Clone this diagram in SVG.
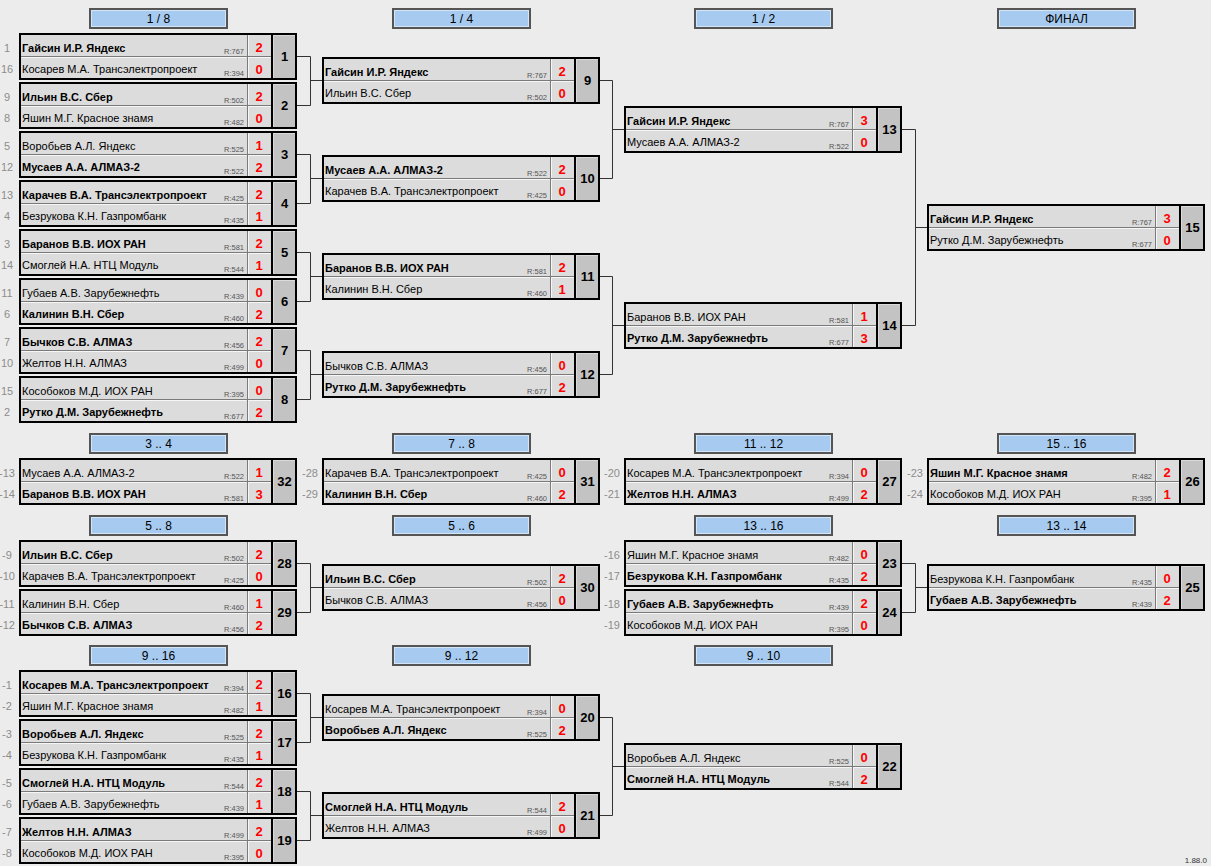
<svg xmlns="http://www.w3.org/2000/svg" xmlns:xlink="http://www.w3.org/1999/xlink" width="1211" height="866" viewBox="0 0 1211 866">
<style>
text{font-family:'Liberation Sans',Arial,sans-serif}
.nm{font-size:11px;fill:#000}
.w{font-weight:bold}
.r{font-size:7.5px;fill:#555;text-anchor:end}
.sc{font-size:13px;font-weight:bold;fill:#ff0000;text-anchor:middle}
.no{font-size:13px;font-weight:bold;fill:#000;text-anchor:middle}
.sd{font-size:11px;fill:#8c8c8c;text-anchor:middle}
.ht{font-size:12px;fill:#000;text-anchor:middle}
.con{fill:none;stroke:#333;stroke-width:1}
.ver{font-size:8px;fill:#333;text-anchor:end}
</style>
<defs>
<g id="box">
<rect x="0" y="0" width="278" height="47" fill="#dcdcdc"/>
<rect x="253" y="0" width="25" height="47" fill="#c3c3c3"/>
<path d="M1.5,22.5V1.5H227.5M1.5,45.5V24.5H227.5M229.5,22.5V1.5H252M229.5,45.5V24.5H252" fill="none" stroke="#f6f6f6"/>
<path d="M254.5,45.5V2.5H276.5" fill="none" stroke="#dadada"/>
<path d="M0,23.5H253M228.5,0V47" fill="none" stroke="#7a7a7a"/>
<rect x="1" y="1" width="276" height="45" fill="none" stroke="#000" stroke-width="2"/>
<line x1="253" y1="0" x2="253" y2="47" stroke="#000" stroke-width="2"/>
</g>
<g id="hdr">
<rect x="1" y="1" width="137" height="19" fill="#a6caf0" stroke="#555" stroke-width="2"/>
<rect x="2.5" y="2.5" width="134" height="16" fill="none" stroke="#d4e5f7" stroke-width="1"/>
</g>
</defs>
<rect x="0" y="0" width="1211" height="866" fill="#ececec"/>

<g id="headers">
<g transform="translate(89,8)"><use xlink:href="#hdr"/><text class="ht" x="69.5" y="15">1 / 8</text></g>
<g transform="translate(392,8)"><use xlink:href="#hdr"/><text class="ht" x="69.5" y="15">1 / 4</text></g>
<g transform="translate(694,8)"><use xlink:href="#hdr"/><text class="ht" x="69.5" y="15">1 / 2</text></g>
<g transform="translate(997,8)"><use xlink:href="#hdr"/><text class="ht" x="69.5" y="15">ФИНАЛ</text></g>
<g transform="translate(89,433)"><use xlink:href="#hdr"/><text class="ht" x="69.5" y="15">3 .. 4</text></g>
<g transform="translate(392,433)"><use xlink:href="#hdr"/><text class="ht" x="69.5" y="15">7 .. 8</text></g>
<g transform="translate(694,433)"><use xlink:href="#hdr"/><text class="ht" x="69.5" y="15">11 .. 12</text></g>
<g transform="translate(997,433)"><use xlink:href="#hdr"/><text class="ht" x="69.5" y="15">15 .. 16</text></g>
<g transform="translate(89,515)"><use xlink:href="#hdr"/><text class="ht" x="69.5" y="15">5 .. 8</text></g>
<g transform="translate(392,515)"><use xlink:href="#hdr"/><text class="ht" x="69.5" y="15">5 .. 6</text></g>
<g transform="translate(694,515)"><use xlink:href="#hdr"/><text class="ht" x="69.5" y="15">13 .. 16</text></g>
<g transform="translate(997,515)"><use xlink:href="#hdr"/><text class="ht" x="69.5" y="15">13 .. 14</text></g>
<g transform="translate(89,645)"><use xlink:href="#hdr"/><text class="ht" x="69.5" y="15">9 .. 16</text></g>
<g transform="translate(392,645)"><use xlink:href="#hdr"/><text class="ht" x="69.5" y="15">9 .. 12</text></g>
<g transform="translate(694,645)"><use xlink:href="#hdr"/><text class="ht" x="69.5" y="15">9 .. 10</text></g>
</g>

<g id="connectors" class="con">
<path d="M297,56.5H310.5V105.5H297M310.5,80.5H322"/>
<path d="M297,154.5H310.5V203.5H297M310.5,178.5H322"/>
<path d="M297,252.5H310.5V301.5H297M310.5,276.5H322"/>
<path d="M297,350.5H310.5V399.5H297M310.5,374.5H322"/>
<path d="M600,80.5H612.5V178.5H600M612.5,129.5H624"/>
<path d="M600,276.5H612.5V374.5H600M612.5,325.5H624"/>
<path d="M902,129.5H915.5V325.5H902M915.5,227.5H927"/>
<path d="M297,563.5H310.5V612.5H297M310.5,587.5H322"/>
<path d="M902,563.5H915.5V612.5H902M915.5,587.5H927"/>
<path d="M297,693.5H310.5V742.5H297M310.5,717.5H322"/>
<path d="M297,791.5H310.5V840.5H297M310.5,815.5H322"/>
<path d="M600,717.5H612.5V815.5H600M612.5,766.5H624"/>
</g>

<g id="m1" transform="translate(19,33)"><use xlink:href="#box"/>
<text class="sd" x="-12" y="18.5">1</text><text class="nm w" x="3" y="18.5">Гайсин И.Р. Яндекс</text><text class="r" x="225" y="21">R:767</text><text class="sc" x="240" y="19">2</text>
<text class="sd" x="-12" y="40">16</text><text class="nm" x="3" y="40">Косарев М.А. Трансэлектропроект</text><text class="r" x="225" y="43">R:394</text><text class="sc" x="240" y="41">0</text>
<text class="no" x="265.5" y="28">1</text></g>
<g id="m2" transform="translate(19,82)"><use xlink:href="#box"/>
<text class="sd" x="-12" y="18.5">9</text><text class="nm w" x="3" y="18.5">Ильин В.С. Сбер</text><text class="r" x="225" y="21">R:502</text><text class="sc" x="240" y="19">2</text>
<text class="sd" x="-12" y="40">8</text><text class="nm" x="3" y="40">Яшин М.Г. Красное знамя</text><text class="r" x="225" y="43">R:482</text><text class="sc" x="240" y="41">0</text>
<text class="no" x="265.5" y="28">2</text></g>
<g id="m3" transform="translate(19,131)"><use xlink:href="#box"/>
<text class="sd" x="-12" y="18.5">5</text><text class="nm" x="3" y="18.5">Воробьев А.Л. Яндекс</text><text class="r" x="225" y="21">R:525</text><text class="sc" x="240" y="19">1</text>
<text class="sd" x="-12" y="40">12</text><text class="nm w" x="3" y="40">Мусаев А.А. АЛМАЗ-2</text><text class="r" x="225" y="43">R:522</text><text class="sc" x="240" y="41">2</text>
<text class="no" x="265.5" y="28">3</text></g>
<g id="m4" transform="translate(19,180)"><use xlink:href="#box"/>
<text class="sd" x="-12" y="18.5">13</text><text class="nm w" x="3" y="18.5">Карачев В.А. Трансэлектропроект</text><text class="r" x="225" y="21">R:425</text><text class="sc" x="240" y="19">2</text>
<text class="sd" x="-12" y="40">4</text><text class="nm" x="3" y="40">Безрукова К.Н. Газпромбанк</text><text class="r" x="225" y="43">R:435</text><text class="sc" x="240" y="41">1</text>
<text class="no" x="265.5" y="28">4</text></g>
<g id="m5" transform="translate(19,229)"><use xlink:href="#box"/>
<text class="sd" x="-12" y="18.5">3</text><text class="nm w" x="3" y="18.5">Баранов В.В. ИОХ РАН</text><text class="r" x="225" y="21">R:581</text><text class="sc" x="240" y="19">2</text>
<text class="sd" x="-12" y="40">14</text><text class="nm" x="3" y="40">Смоглей Н.А. НТЦ Модуль</text><text class="r" x="225" y="43">R:544</text><text class="sc" x="240" y="41">1</text>
<text class="no" x="265.5" y="28">5</text></g>
<g id="m6" transform="translate(19,278)"><use xlink:href="#box"/>
<text class="sd" x="-12" y="18.5">11</text><text class="nm" x="3" y="18.5">Губаев А.В. Зарубежнефть</text><text class="r" x="225" y="21">R:439</text><text class="sc" x="240" y="19">0</text>
<text class="sd" x="-12" y="40">6</text><text class="nm w" x="3" y="40">Калинин В.Н. Сбер</text><text class="r" x="225" y="43">R:460</text><text class="sc" x="240" y="41">2</text>
<text class="no" x="265.5" y="28">6</text></g>
<g id="m7" transform="translate(19,327)"><use xlink:href="#box"/>
<text class="sd" x="-12" y="18.5">7</text><text class="nm w" x="3" y="18.5">Бычков С.В. АЛМАЗ</text><text class="r" x="225" y="21">R:456</text><text class="sc" x="240" y="19">2</text>
<text class="sd" x="-12" y="40">10</text><text class="nm" x="3" y="40">Желтов Н.Н. АЛМАЗ</text><text class="r" x="225" y="43">R:499</text><text class="sc" x="240" y="41">0</text>
<text class="no" x="265.5" y="28">7</text></g>
<g id="m8" transform="translate(19,376)"><use xlink:href="#box"/>
<text class="sd" x="-12" y="18.5">15</text><text class="nm" x="3" y="18.5">Кособоков М.Д. ИОХ РАН</text><text class="r" x="225" y="21">R:395</text><text class="sc" x="240" y="19">0</text>
<text class="sd" x="-12" y="40">2</text><text class="nm w" x="3" y="40">Рутко Д.М. Зарубежнефть</text><text class="r" x="225" y="43">R:677</text><text class="sc" x="240" y="41">2</text>
<text class="no" x="265.5" y="28">8</text></g>

<g id="m9" transform="translate(322,57)"><use xlink:href="#box"/>
<text class="nm w" x="3" y="18.5">Гайсин И.Р. Яндекс</text><text class="r" x="225" y="21">R:767</text><text class="sc" x="240" y="19">2</text>
<text class="nm" x="3" y="40">Ильин В.С. Сбер</text><text class="r" x="225" y="43">R:502</text><text class="sc" x="240" y="41">0</text>
<text class="no" x="265.5" y="28">9</text></g>
<g id="m10" transform="translate(322,155)"><use xlink:href="#box"/>
<text class="nm w" x="3" y="18.5">Мусаев А.А. АЛМАЗ-2</text><text class="r" x="225" y="21">R:522</text><text class="sc" x="240" y="19">2</text>
<text class="nm" x="3" y="40">Карачев В.А. Трансэлектропроект</text><text class="r" x="225" y="43">R:425</text><text class="sc" x="240" y="41">0</text>
<text class="no" x="265.5" y="28">10</text></g>
<g id="m11" transform="translate(322,253)"><use xlink:href="#box"/>
<text class="nm w" x="3" y="18.5">Баранов В.В. ИОХ РАН</text><text class="r" x="225" y="21">R:581</text><text class="sc" x="240" y="19">2</text>
<text class="nm" x="3" y="40">Калинин В.Н. Сбер</text><text class="r" x="225" y="43">R:460</text><text class="sc" x="240" y="41">1</text>
<text class="no" x="265.5" y="28">11</text></g>
<g id="m12" transform="translate(322,351)"><use xlink:href="#box"/>
<text class="nm" x="3" y="18.5">Бычков С.В. АЛМАЗ</text><text class="r" x="225" y="21">R:456</text><text class="sc" x="240" y="19">0</text>
<text class="nm w" x="3" y="40">Рутко Д.М. Зарубежнефть</text><text class="r" x="225" y="43">R:677</text><text class="sc" x="240" y="41">2</text>
<text class="no" x="265.5" y="28">12</text></g>

<g id="m13" transform="translate(624,106)"><use xlink:href="#box"/>
<text class="nm w" x="3" y="18.5">Гайсин И.Р. Яндекс</text><text class="r" x="225" y="21">R:767</text><text class="sc" x="240" y="19">3</text>
<text class="nm" x="3" y="40">Мусаев А.А. АЛМАЗ-2</text><text class="r" x="225" y="43">R:522</text><text class="sc" x="240" y="41">0</text>
<text class="no" x="265.5" y="28">13</text></g>
<g id="m14" transform="translate(624,302)"><use xlink:href="#box"/>
<text class="nm" x="3" y="18.5">Баранов В.В. ИОХ РАН</text><text class="r" x="225" y="21">R:581</text><text class="sc" x="240" y="19">1</text>
<text class="nm w" x="3" y="40">Рутко Д.М. Зарубежнефть</text><text class="r" x="225" y="43">R:677</text><text class="sc" x="240" y="41">3</text>
<text class="no" x="265.5" y="28">14</text></g>
<g id="m15" transform="translate(927,204)"><use xlink:href="#box"/>
<text class="nm w" x="3" y="18.5">Гайсин И.Р. Яндекс</text><text class="r" x="225" y="21">R:767</text><text class="sc" x="240" y="19">3</text>
<text class="nm" x="3" y="40">Рутко Д.М. Зарубежнефть</text><text class="r" x="225" y="43">R:677</text><text class="sc" x="240" y="41">0</text>
<text class="no" x="265.5" y="28">15</text></g>

<g id="m32" transform="translate(19,458)"><use xlink:href="#box"/>
<text class="sd" x="-12" y="18.5">-13</text><text class="nm" x="3" y="18.5">Мусаев А.А. АЛМАЗ-2</text><text class="r" x="225" y="21">R:522</text><text class="sc" x="240" y="19">1</text>
<text class="sd" x="-12" y="40">-14</text><text class="nm w" x="3" y="40">Баранов В.В. ИОХ РАН</text><text class="r" x="225" y="43">R:581</text><text class="sc" x="240" y="41">3</text>
<text class="no" x="265.5" y="28">32</text></g>
<g id="m31" transform="translate(322,458)"><use xlink:href="#box"/>
<text class="sd" x="-12" y="18.5">-28</text><text class="nm" x="3" y="18.5">Карачев В.А. Трансэлектропроект</text><text class="r" x="225" y="21">R:425</text><text class="sc" x="240" y="19">0</text>
<text class="sd" x="-12" y="40">-29</text><text class="nm w" x="3" y="40">Калинин В.Н. Сбер</text><text class="r" x="225" y="43">R:460</text><text class="sc" x="240" y="41">2</text>
<text class="no" x="265.5" y="28">31</text></g>
<g id="m27" transform="translate(624,458)"><use xlink:href="#box"/>
<text class="sd" x="-12" y="18.5">-20</text><text class="nm" x="3" y="18.5">Косарев М.А. Трансэлектропроект</text><text class="r" x="225" y="21">R:394</text><text class="sc" x="240" y="19">0</text>
<text class="sd" x="-12" y="40">-21</text><text class="nm w" x="3" y="40">Желтов Н.Н. АЛМАЗ</text><text class="r" x="225" y="43">R:499</text><text class="sc" x="240" y="41">2</text>
<text class="no" x="265.5" y="28">27</text></g>
<g id="m26" transform="translate(927,458)"><use xlink:href="#box"/>
<text class="sd" x="-12" y="18.5">-23</text><text class="nm w" x="3" y="18.5">Яшин М.Г. Красное знамя</text><text class="r" x="225" y="21">R:482</text><text class="sc" x="240" y="19">2</text>
<text class="sd" x="-12" y="40">-24</text><text class="nm" x="3" y="40">Кособоков М.Д. ИОХ РАН</text><text class="r" x="225" y="43">R:395</text><text class="sc" x="240" y="41">1</text>
<text class="no" x="265.5" y="28">26</text></g>

<g id="m28" transform="translate(19,540)"><use xlink:href="#box"/>
<text class="sd" x="-12" y="18.5">-9</text><text class="nm w" x="3" y="18.5">Ильин В.С. Сбер</text><text class="r" x="225" y="21">R:502</text><text class="sc" x="240" y="19">2</text>
<text class="sd" x="-12" y="40">-10</text><text class="nm" x="3" y="40">Карачев В.А. Трансэлектропроект</text><text class="r" x="225" y="43">R:425</text><text class="sc" x="240" y="41">0</text>
<text class="no" x="265.5" y="28">28</text></g>
<g id="m29" transform="translate(19,589)"><use xlink:href="#box"/>
<text class="sd" x="-12" y="18.5">-11</text><text class="nm" x="3" y="18.5">Калинин В.Н. Сбер</text><text class="r" x="225" y="21">R:460</text><text class="sc" x="240" y="19">1</text>
<text class="sd" x="-12" y="40">-12</text><text class="nm w" x="3" y="40">Бычков С.В. АЛМАЗ</text><text class="r" x="225" y="43">R:456</text><text class="sc" x="240" y="41">2</text>
<text class="no" x="265.5" y="28">29</text></g>
<g id="m30" transform="translate(322,564)"><use xlink:href="#box"/>
<text class="nm w" x="3" y="18.5">Ильин В.С. Сбер</text><text class="r" x="225" y="21">R:502</text><text class="sc" x="240" y="19">2</text>
<text class="nm" x="3" y="40">Бычков С.В. АЛМАЗ</text><text class="r" x="225" y="43">R:456</text><text class="sc" x="240" y="41">0</text>
<text class="no" x="265.5" y="28">30</text></g>
<g id="m23" transform="translate(624,540)"><use xlink:href="#box"/>
<text class="sd" x="-12" y="18.5">-16</text><text class="nm" x="3" y="18.5">Яшин М.Г. Красное знамя</text><text class="r" x="225" y="21">R:482</text><text class="sc" x="240" y="19">0</text>
<text class="sd" x="-12" y="40">-17</text><text class="nm w" x="3" y="40">Безрукова К.Н. Газпромбанк</text><text class="r" x="225" y="43">R:435</text><text class="sc" x="240" y="41">2</text>
<text class="no" x="265.5" y="28">23</text></g>
<g id="m24" transform="translate(624,589)"><use xlink:href="#box"/>
<text class="sd" x="-12" y="18.5">-18</text><text class="nm w" x="3" y="18.5">Губаев А.В. Зарубежнефть</text><text class="r" x="225" y="21">R:439</text><text class="sc" x="240" y="19">2</text>
<text class="sd" x="-12" y="40">-19</text><text class="nm" x="3" y="40">Кособоков М.Д. ИОХ РАН</text><text class="r" x="225" y="43">R:395</text><text class="sc" x="240" y="41">0</text>
<text class="no" x="265.5" y="28">24</text></g>
<g id="m25" transform="translate(927,564)"><use xlink:href="#box"/>
<text class="nm" x="3" y="18.5">Безрукова К.Н. Газпромбанк</text><text class="r" x="225" y="21">R:435</text><text class="sc" x="240" y="19">0</text>
<text class="nm w" x="3" y="40">Губаев А.В. Зарубежнефть</text><text class="r" x="225" y="43">R:439</text><text class="sc" x="240" y="41">2</text>
<text class="no" x="265.5" y="28">25</text></g>

<g id="m16" transform="translate(19,670)"><use xlink:href="#box"/>
<text class="sd" x="-12" y="18.5">-1</text><text class="nm w" x="3" y="18.5">Косарев М.А. Трансэлектропроект</text><text class="r" x="225" y="21">R:394</text><text class="sc" x="240" y="19">2</text>
<text class="sd" x="-12" y="40">-2</text><text class="nm" x="3" y="40">Яшин М.Г. Красное знамя</text><text class="r" x="225" y="43">R:482</text><text class="sc" x="240" y="41">1</text>
<text class="no" x="265.5" y="28">16</text></g>
<g id="m17" transform="translate(19,719)"><use xlink:href="#box"/>
<text class="sd" x="-12" y="18.5">-3</text><text class="nm w" x="3" y="18.5">Воробьев А.Л. Яндекс</text><text class="r" x="225" y="21">R:525</text><text class="sc" x="240" y="19">2</text>
<text class="sd" x="-12" y="40">-4</text><text class="nm" x="3" y="40">Безрукова К.Н. Газпромбанк</text><text class="r" x="225" y="43">R:435</text><text class="sc" x="240" y="41">1</text>
<text class="no" x="265.5" y="28">17</text></g>
<g id="m18" transform="translate(19,768)"><use xlink:href="#box"/>
<text class="sd" x="-12" y="18.5">-5</text><text class="nm w" x="3" y="18.5">Смоглей Н.А. НТЦ Модуль</text><text class="r" x="225" y="21">R:544</text><text class="sc" x="240" y="19">2</text>
<text class="sd" x="-12" y="40">-6</text><text class="nm" x="3" y="40">Губаев А.В. Зарубежнефть</text><text class="r" x="225" y="43">R:439</text><text class="sc" x="240" y="41">1</text>
<text class="no" x="265.5" y="28">18</text></g>
<g id="m19" transform="translate(19,817)"><use xlink:href="#box"/>
<text class="sd" x="-12" y="18.5">-7</text><text class="nm w" x="3" y="18.5">Желтов Н.Н. АЛМАЗ</text><text class="r" x="225" y="21">R:499</text><text class="sc" x="240" y="19">2</text>
<text class="sd" x="-12" y="40">-8</text><text class="nm" x="3" y="40">Кособоков М.Д. ИОХ РАН</text><text class="r" x="225" y="43">R:395</text><text class="sc" x="240" y="41">0</text>
<text class="no" x="265.5" y="28">19</text></g>
<g id="m20" transform="translate(322,694)"><use xlink:href="#box"/>
<text class="nm" x="3" y="18.5">Косарев М.А. Трансэлектропроект</text><text class="r" x="225" y="21">R:394</text><text class="sc" x="240" y="19">0</text>
<text class="nm w" x="3" y="40">Воробьев А.Л. Яндекс</text><text class="r" x="225" y="43">R:525</text><text class="sc" x="240" y="41">2</text>
<text class="no" x="265.5" y="28">20</text></g>
<g id="m21" transform="translate(322,792)"><use xlink:href="#box"/>
<text class="nm w" x="3" y="18.5">Смоглей Н.А. НТЦ Модуль</text><text class="r" x="225" y="21">R:544</text><text class="sc" x="240" y="19">2</text>
<text class="nm" x="3" y="40">Желтов Н.Н. АЛМАЗ</text><text class="r" x="225" y="43">R:499</text><text class="sc" x="240" y="41">0</text>
<text class="no" x="265.5" y="28">21</text></g>
<g id="m22" transform="translate(624,743)"><use xlink:href="#box"/>
<text class="nm" x="3" y="18.5">Воробьев А.Л. Яндекс</text><text class="r" x="225" y="21">R:525</text><text class="sc" x="240" y="19">0</text>
<text class="nm w" x="3" y="40">Смоглей Н.А. НТЦ Модуль</text><text class="r" x="225" y="43">R:544</text><text class="sc" x="240" y="41">2</text>
<text class="no" x="265.5" y="28">22</text></g>

<text class="ver" x="1207" y="863">1.88.0</text>
</svg>
